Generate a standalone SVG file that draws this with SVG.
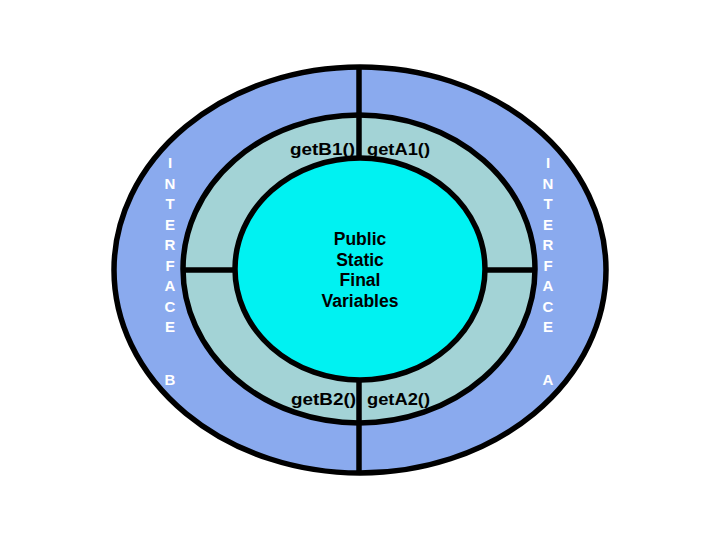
<svg xmlns="http://www.w3.org/2000/svg" width="720" height="540" viewBox="0 0 720 540">
<style>
.ring{stroke:#000;stroke-width:5.5}
.conn{stroke:#000;stroke-width:5.5;fill:none}
.lbl{font-family:"Liberation Sans",Arial,sans-serif;font-weight:bold;font-size:17px;fill:#000}
.side{font-family:"Liberation Sans",Arial,sans-serif;font-weight:bold;font-size:15px;fill:#fff;text-anchor:middle}
.ctr{font-family:"Liberation Sans",Arial,sans-serif;font-weight:bold;font-size:17.5px;fill:#000;text-anchor:middle}
</style>
<rect width="720" height="540" fill="#fff"/>
<g id="outer">
<ellipse class="ring" cx="360" cy="270" rx="246" ry="203" fill="#8aaaee"/>
</g>
<g id="middle">
<ellipse class="ring" cx="359" cy="269" rx="176" ry="154" fill="#a3d3d6"/>
</g>
<g id="inner">
<ellipse class="ring" cx="360" cy="269" rx="125" ry="111" fill="#00f2f2"/>
</g>
<g id="connectors">
<line class="conn" x1="359" y1="67" x2="359" y2="158"/>
<line class="conn" x1="359" y1="380" x2="359" y2="473"/>
<line class="conn" x1="183" y1="270" x2="235" y2="270"/>
<line class="conn" x1="485" y1="270" x2="535" y2="270"/>
</g>
<g id="methods">
<text class="lbl" x="290" y="155" textLength="65" lengthAdjust="spacingAndGlyphs">getB1()</text>
<text class="lbl" x="367" y="155" textLength="63" lengthAdjust="spacingAndGlyphs">getA1()</text>
<text class="lbl" x="291" y="405" textLength="65" lengthAdjust="spacingAndGlyphs">getB2()</text>
<text class="lbl" x="367" y="405" textLength="63" lengthAdjust="spacingAndGlyphs">getA2()</text>
</g>
<g id="center-text">
<text class="ctr" x="360" y="245">Public</text>
<text class="ctr" x="360" y="265.5">Static</text>
<text class="ctr" x="360" y="286">Final</text>
<text class="ctr" x="360" y="306.5">Variables</text>
</g>
<g id="interface-b">
<text class="side" x="170" y="168">I</text>
<text class="side" x="170" y="188.5">N</text>
<text class="side" x="170" y="209">T</text>
<text class="side" x="170" y="229.5">E</text>
<text class="side" x="170" y="250">R</text>
<text class="side" x="170" y="270.5">F</text>
<text class="side" x="170" y="291">A</text>
<text class="side" x="170" y="311.5">C</text>
<text class="side" x="170" y="332">E</text>
<text class="side" x="170" y="385">B</text>
</g>
<g id="interface-a">
<text class="side" x="548" y="168">I</text>
<text class="side" x="548" y="188.5">N</text>
<text class="side" x="548" y="209">T</text>
<text class="side" x="548" y="229.5">E</text>
<text class="side" x="548" y="250">R</text>
<text class="side" x="548" y="270.5">F</text>
<text class="side" x="548" y="291">A</text>
<text class="side" x="548" y="311.5">C</text>
<text class="side" x="548" y="332">E</text>
<text class="side" x="548" y="385">A</text>
</g>
</svg>
